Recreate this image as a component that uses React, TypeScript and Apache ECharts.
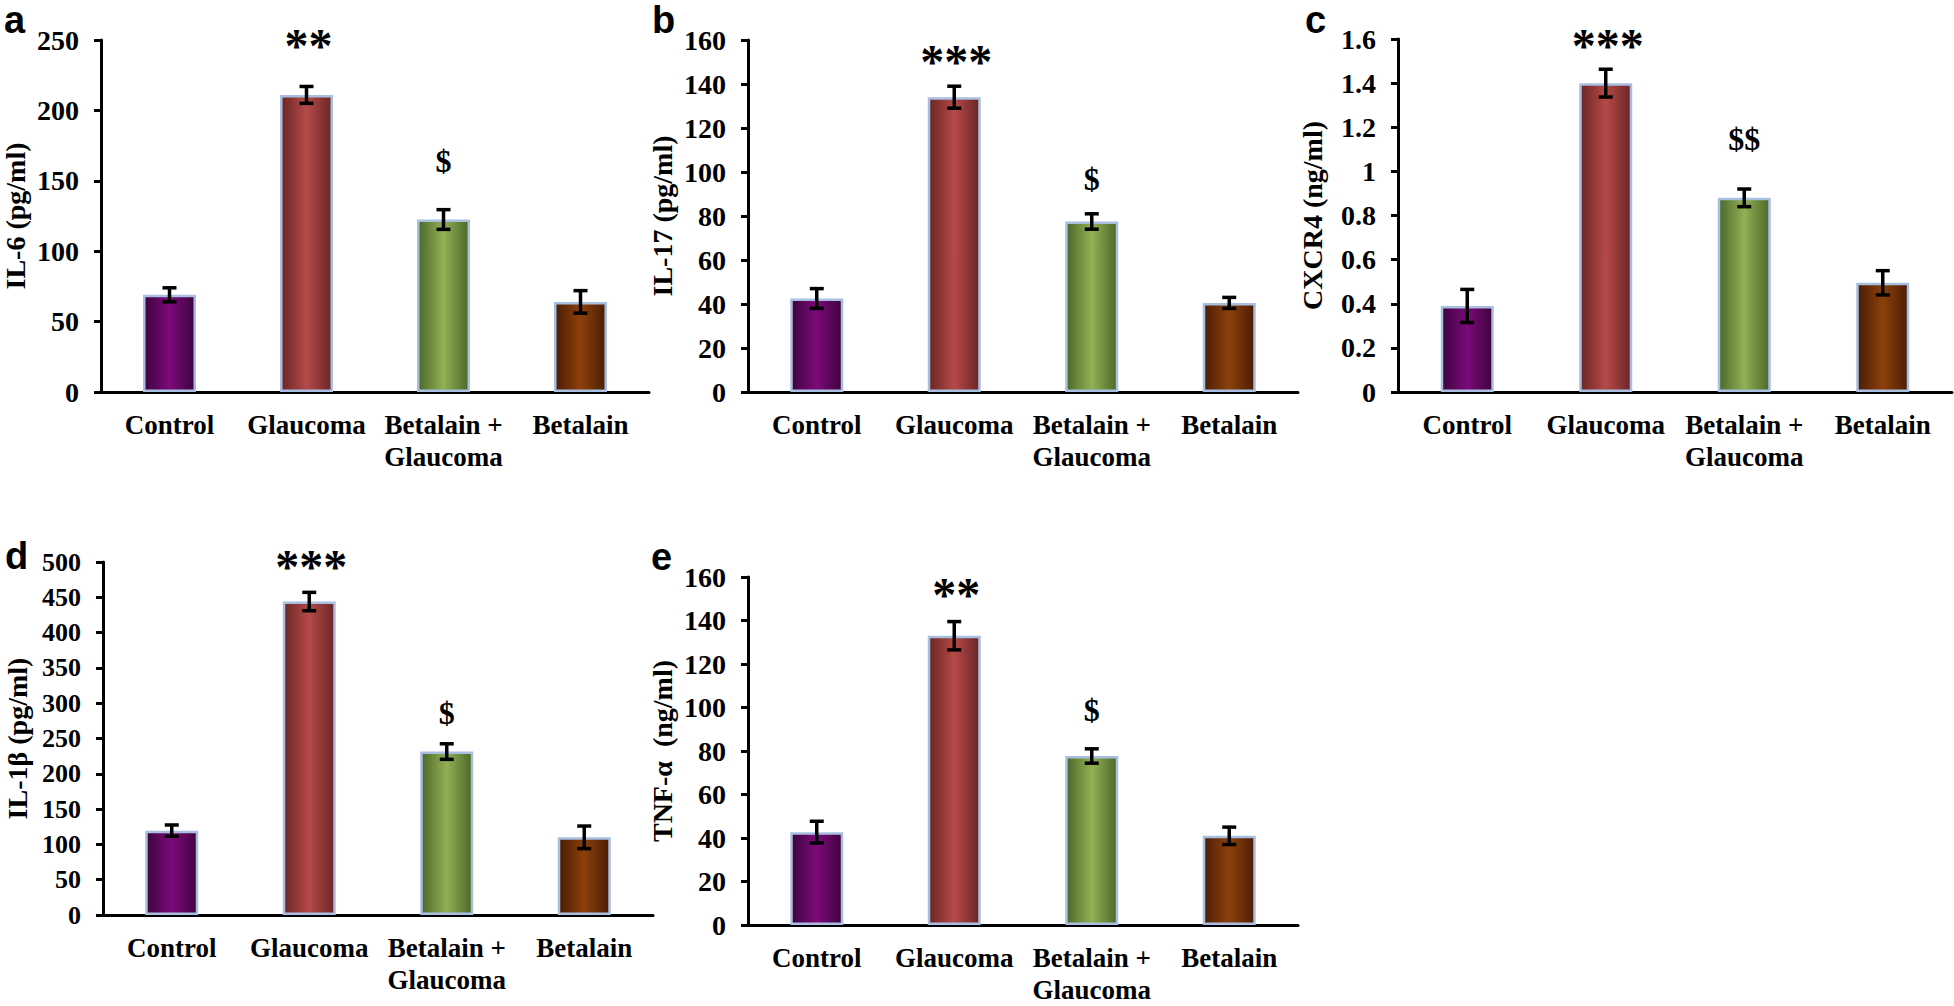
import React, { useEffect, useRef } from "react";
import * as echarts from "echarts";

const categories = ["Control", "Glaucoma", "Betalain +\nGlaucoma", "Betalain"];

// Panel a: IL-6 (pg/ml)
const il6 = [69, 211, 122.5, 64];
const il6Err = [5, 6, 7, 8];
const il6Marks = ["", "**", "$", ""];
const il6MarkY = [0, 249, 164, 0];

// Panel b: IL-17 (pg/ml)
const il17 = [42.5, 134, 77.5, 40.5];
const il17Err = [4.5, 5, 3.5, 2.5];
const il17Marks = ["", "***", "$", ""];
const il17MarkY = [0, 152, 97, 0];

// Panel c: CXCR4 (ng/ml)
const cxcr4 = [0.39, 1.4, 0.88, 0.495];
const cxcr4Err = [0.075, 0.063, 0.04, 0.055];
const cxcr4Marks = ["", "***", "$$", ""];
const cxcr4MarkY = [0, 1.59, 1.147, 0];

// Panel d: IL-1β (pg/ml)
const il1b = [119.5, 444, 231.5, 110];
const il1bErr = [8, 13, 11, 16];
const il1bMarks = ["", "***", "$", ""];
const il1bMarkY = [0, 499, 286, 0];

// Panel e: TNF-α (ng/ml)
const tnf = [42.7, 133, 77.7, 41];
const tnfErr = [5, 6.5, 3.3, 4];
const tnfMarks = ["", "**", "$", ""];
const tnfMarkY = [0, 154, 99, 0];

const yMax = [250, 160, 1.6, 500, 160];
const yStep = [50, 20, 0.2, 50, 20];
const yNames = ["IL-6 (pg/ml)", "IL-17 (pg/ml)", "CXCR4 (ng/ml)", "IL-1β (pg/ml)", "TNF-α  (ng/ml)"];
const panelLetters = ["a", "b", "c", "d", "e"];

const barColors = [
  ["#3c043c", "#7c0a7a"],
  ["#6a2626", "#b44a48"],
  ["#4c682a", "#92b054"],
  ["#4a1e04", "#8c400a"],
];

const SERIF = "'Liberation Serif', 'Times New Roman', serif";
const SANS = "'Liberation Sans', Arial, sans-serif";

export default function App() {
  const ref = useRef<HTMLDivElement>(null);

  useEffect(() => {
    if (!ref.current) return;
    const chart = echarts.init(ref.current, null, { renderer: "svg" });

    const values = [il6, il17, cxcr4, il1b, tnf];
    const errs = [il6Err, il17Err, cxcr4Err, il1bErr, tnfErr];
    const marks = [il6Marks, il17Marks, cxcr4Marks, il1bMarks, tnfMarks];
    const markY = [il6MarkY, il17MarkY, cxcr4MarkY, il1bMarkY, tnfMarkY];

    const grids = [
      { left: 99, top: 40, width: 550, height: 352 },
      { left: 748, top: 40, width: 550, height: 352 },
      { left: 1398, top: 39, width: 554, height: 353 },
      { left: 103, top: 562, width: 550, height: 353 },
      { left: 748, top: 577, width: 550, height: 355 },
    ];
    const tickFont = [28, 28, 28, 26, 28];
    const letterPos = [
      [4, 1],
      [652, 1],
      [1305, 1],
      [5, 537],
      [651, 538],
    ];

    const xAxis: any[] = [];
    const yAxis: any[] = [];
    const series: any[] = [];

    for (let p = 0; p < 5; p++) {
      xAxis.push({
        type: "category",
        gridIndex: p,
        data: categories,
        axisLine: { lineStyle: { color: "#000", width: 3 } },
        axisTick: { show: false },
        axisLabel: {
          color: "#000",
          fontFamily: SERIF,
          fontWeight: "bold",
          fontSize: 27,
          lineHeight: 32,
          margin: 17,
          interval: 0,
        },
      });
      yAxis.push({
        type: "value",
        gridIndex: p,
        min: 0,
        max: yMax[p],
        interval: yStep[p],
        name: yNames[p],
        nameLocation: "middle",
        nameGap: 72,
        nameTextStyle: {
          color: "#000",
          fontFamily: SERIF,
          fontWeight: "bold",
          fontSize: 28,
        },
        splitLine: { show: false },
        axisLine: { show: true, lineStyle: { color: "#000", width: 3 } },
        axisTick: { show: true, length: 7, lineStyle: { color: "#000", width: 3 } },
        axisLabel: {
          color: "#000",
          fontFamily: SERIF,
          fontWeight: "bold",
          fontSize: tickFont[p],
          margin: 22,
        },
      });

      series.push({
        type: "bar",
        xAxisIndex: p,
        yAxisIndex: p,
        barWidth: 53,
        data: values[p].map((v, i) => ({
          value: v,
          itemStyle: {
            color: new echarts.graphic.LinearGradient(0, 0, 1, 0, [
              { offset: 0, color: barColors[i][0] },
              { offset: 0.5, color: barColors[i][1] },
              { offset: 1, color: barColors[i][0] },
            ]),
            borderColor: "#a9bfe2",
            borderWidth: 2.5,
          },
        })),
      });

      series.push({
        type: "custom",
        xAxisIndex: p,
        yAxisIndex: p,
        z: 5,
        data: values[p].map((v, i) => [i, v - errs[p][i], v + errs[p][i]]),
        encode: { x: 0, y: [1, 2] },
        renderItem: (_params: any, api: any) => {
          const x = api.value(0);
          const lo = api.coord([x, api.value(1)]);
          const hi = api.coord([x, api.value(2)]);
          const w = 7;
          const st = { stroke: "#000", lineWidth: 3.5 };
          return {
            type: "group",
            children: [
              { type: "line", shape: { x1: lo[0], y1: lo[1], x2: hi[0], y2: hi[1] }, style: st },
              { type: "line", shape: { x1: lo[0] - w, y1: lo[1], x2: lo[0] + w, y2: lo[1] }, style: st },
              { type: "line", shape: { x1: hi[0] - w, y1: hi[1], x2: hi[0] + w, y2: hi[1] }, style: st },
            ],
          };
        },
      });

      const markData: any[] = [];
      const markText: string[] = [];
      marks[p].forEach((t, i) => {
        if (t) {
          markData.push([i, markY[p][i]]);
          markText.push(t);
        }
      });
      series.push({
        type: "custom",
        xAxisIndex: p,
        yAxisIndex: p,
        z: 6,
        data: markData,
        encode: { x: 0, y: 1 },
        renderItem: (params: any, api: any) => {
          const pt = api.coord([api.value(0), api.value(1)]);
          const txt = markText[params.dataIndex];
          const star = txt.indexOf("*") >= 0;
          return {
            type: "text",
            x: pt[0] + (star ? 2 : 0),
            y: pt[1] + (star ? 4 : 0),
            style: {
              text: txt,
              fill: "#000",
              font: `bold ${star ? 48 : 32}px ${SERIF}`,
              align: "center",
              verticalAlign: "middle",
            },
          };
        },
      });
    }

    const graphic = panelLetters.map((l, i) => ({
      type: "text",
      x: letterPos[i][0],
      y: letterPos[i][1],
      style: {
        text: l,
        fill: "#000",
        font: `bold 38px ${SANS}`,
        align: "left",
        verticalAlign: "top",
      },
    }));

    chart.setOption({
      animation: false,
      backgroundColor: "#fff",
      grid: grids,
      xAxis,
      yAxis,
      series,
      graphic,
    });

    return () => chart.dispose();
  }, []);

  return (
    <div
      ref={ref}
      style={{ position: "absolute", left: 0, top: 0, width: 1954, height: 1006, background: "#fff" }}
    />
  );
}
